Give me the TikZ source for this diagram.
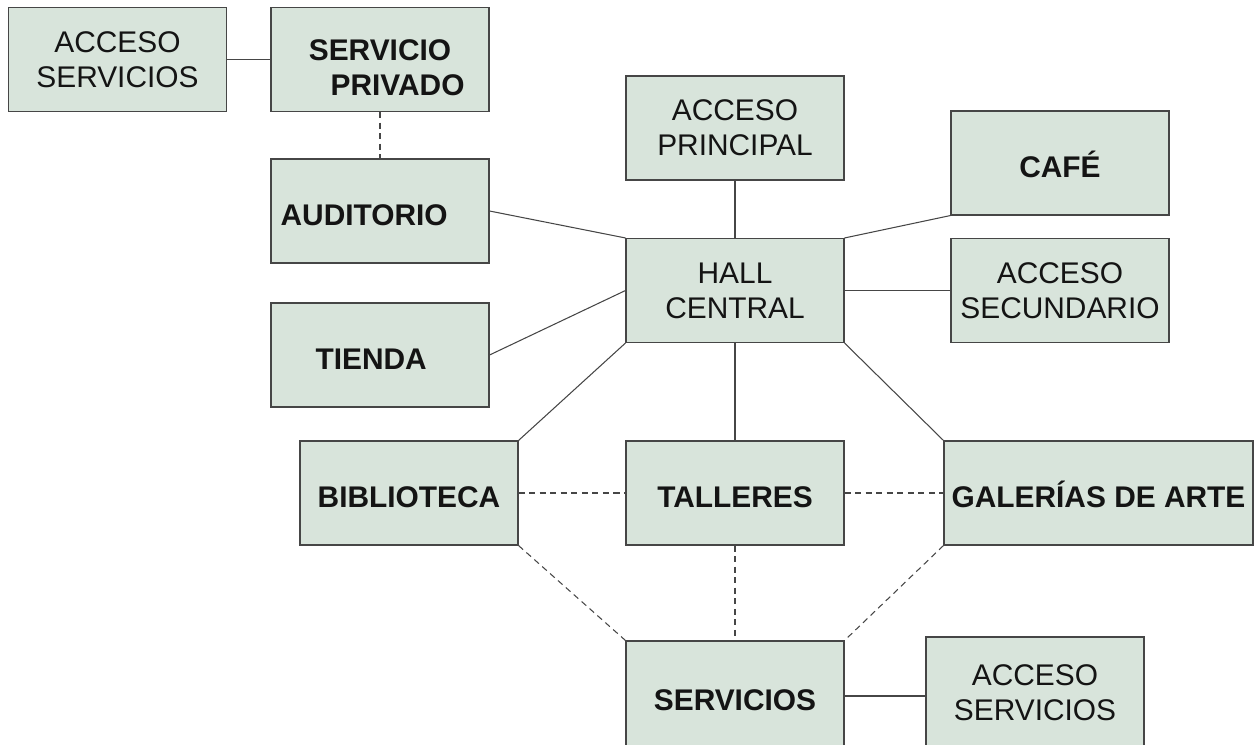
\documentclass[tikz,border=0pt]{standalone}
\usepackage{fontspec}
\setmainfont{Liberation Sans}
\usetikzlibrary{calc}
\definecolor{roomfill}{RGB}{216,228,219}
\definecolor{roomline}{RGB}{70,70,70}
\tikzset{
    room/.style={draw=roomline, fill=roomfill, line width=0.6pt,
        minimum width=4.36cm, minimum height=2.08cm, inner sep=0pt,
        align=center, text=black!92, font=\fontsize{17}{20}\selectfont},
    mainroom/.style={room, font=\fontsize{17}{20}\selectfont\bfseries,
        text height=16.5pt, text depth=0pt},
    link/.style={draw=roomline, line width=0.6pt},
    weaklink/.style={link, dash pattern=on 3.5pt off 2.5pt}
}

\begin{document}
\begin{tikzpicture}
            \clip (0, 0) rectangle (25.12, 14.88);
            \node[room] (ACCSRV) at (2.35, 13.69) {ACCESO\\SERVICIOS};
            \node[room, font=\fontsize{17}{20}\selectfont\bfseries] (PRIVADO) at (7.60, 13.69)
                {\rule{0pt}{20.8pt}SERVICIO\\\hspace{20pt}PRIVADO};
            \node[mainroom] (AUDITORIO) at (7.60, 10.66) {AUDITORIO\hspace{18pt}};
            \node[mainroom] (TIENDA) at (7.60, 7.78) {TIENDA\hspace{10pt}};
            \node[mainroom] (BIBLIOTECA) at (8.18, 5.02) {BIBLIOTECA};
            \node[room] (PRINCIPAL) at (14.70, 12.32) {ACCESO\\PRINCIPAL};
            \node[room] (HALL) at (14.70, 9.07) {HALL\\CENTRAL};
            \node[mainroom] (CAFE) at (21.20, 11.62) {CAFÉ};
            \node[room] (SECUNDARIO) at (21.20, 9.07) {ACCESO\\SECUNDARIO};
            \node[mainroom] (TALLERES) at (14.70, 5.02) {TALLERES};
            \node[mainroom, minimum width=6.18cm] (GALERIAS) at (21.97, 5.02) {GALERÍAS DE ARTE};
            % bottom row runs past the lower edge
            \node[mainroom, minimum height=2.2cm] (SERVICIOS) at (14.70, 0.96) {SERVICIOS};
            \node[room, minimum height=2.24cm] (ACCSRVB) at (20.70, 1.02) {ACCESO\\SERVICIOS};
            % solid connections
            \draw[link] (ACCSRV.east) -- (PRIVADO.west);
            \draw[link] (AUDITORIO.east) -- (HALL.north west);
            \draw[link] (TIENDA.east) -- (HALL.west);
            \draw[link] (PRINCIPAL.south) -- (HALL.north);
            \draw[link] (HALL.north east) -- (CAFE.south west);
            \draw[link] (HALL.east) -- (SECUNDARIO.west);
            \draw[link] (HALL.south west) -- (BIBLIOTECA.north east);
            \draw[link] (HALL.south) -- (TALLERES.north);
            \draw[link] (HALL.south east) -- (GALERIAS.north west);
            \draw[link] (SERVICIOS.east) -- (SERVICIOS.east -| ACCSRVB.west);
            % dashed connections
            \draw[weaklink] (PRIVADO.south) -- (AUDITORIO.north);
            \draw[weaklink] (BIBLIOTECA.east) -- (TALLERES.west);
            \draw[weaklink] (TALLERES.east) -- (GALERIAS.west);
            \draw[weaklink] (BIBLIOTECA.south east) -- (SERVICIOS.north west);
            \draw[weaklink] (TALLERES.south) -- (SERVICIOS.north);
            \draw[weaklink] (GALERIAS.south west) -- (SERVICIOS.north east);
        \end{tikzpicture}
\end{document}
